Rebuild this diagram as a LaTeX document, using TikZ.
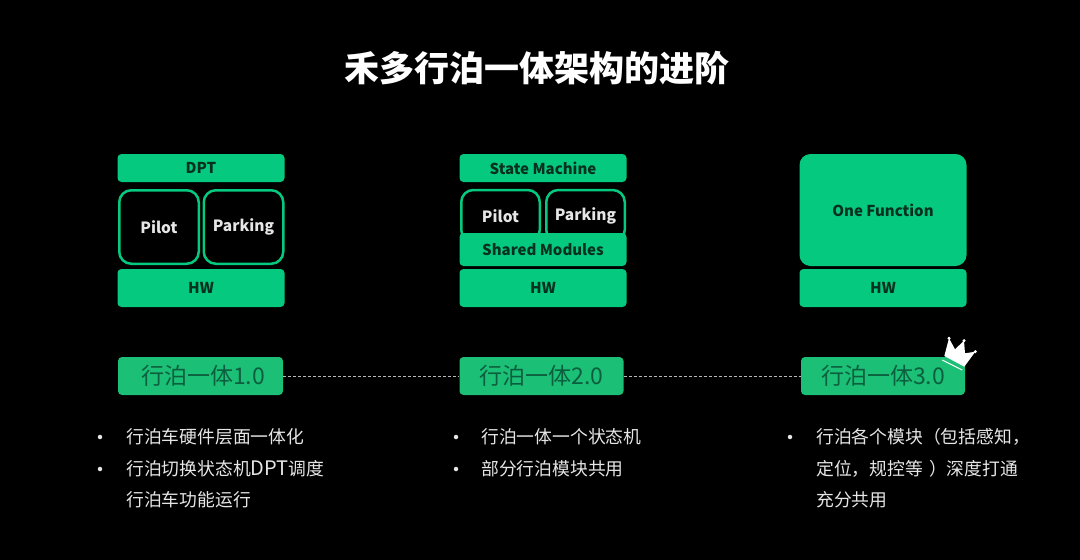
\documentclass[tikz,border=0pt]{standalone}
\usepackage{fontspec}
\setmainfont{Noto Sans CJK SC}
\definecolor{blockgreen}{HTML}{05C97E}
\definecolor{tagfill}{HTML}{1CBF76}
\definecolor{tagtext}{HTML}{0C5F3E}
\definecolor{blocktext}{HTML}{06301F}
\definecolor{bodytext}{HTML}{E6E6E6}
\tikzset{
    block/.style={fill=blockgreen,text=blocktext,rounded corners=4pt,inner sep=0pt,font=\fontsize{15}{15}\selectfont\bfseries},
    outlined/.style={draw=blockgreen,line width=2.5pt,fill=black,text=bodytext,rounded corners=12pt,inner sep=0pt,font=\fontsize{15.5}{15}\selectfont\bfseries},
    tag/.style={fill=tagfill,text=tagtext,rounded corners=4pt,inner sep=0pt,minimum height=38pt,font=\fontsize{23}{23}\selectfont},
    linkline/.style={densely dashed,line width=0.8pt,draw=bodytext!80!black},
    bodyline/.style={text=bodytext,anchor=west,inner sep=0pt,font=\fontsize{17.8}{18}\selectfont},
    dot/.style={circle,fill=bodytext,inner sep=0pt,minimum size=4.5pt}
}
\begin{document}
\begin{tikzpicture}[x=1pt,y=-1pt]
    \fill[black] (0,0) rectangle (1080,560);
    \useasboundingbox (0,0) rectangle (1080,560);
    \node[text=white,inner sep=0pt,font=\fontsize{35}{35}\selectfont\bfseries] (title) at (537,68) {禾多行泊一体架构的进阶};
    % first stack
    \node[block,minimum width=167pt,minimum height=28pt] (dptA) at (201,168) {DPT};
    \node[outlined,minimum width=79.5pt,minimum height=73.5pt] (pilotA) at (159,227) {Pilot};
    \node[outlined,minimum width=79.5pt,minimum height=73.5pt] (parkingA) at (243.5,227) {Parking};
    \node[block,minimum width=167pt,minimum height=38pt] (hwA) at (201,288) {HW};
    % second stack
    \node[block,minimum width=167pt,minimum height=28pt] (stateB) at (543,168) {State Machine};
    \node[outlined,minimum width=78.5pt,minimum height=52pt] (pilotB) at (500.5,216) {Pilot};
    \node[outlined,minimum width=78.5pt,minimum height=52pt] (parkingB) at (585.5,216) {Parking};
    \node[block,minimum width=167pt,minimum height=33pt] (sharedB) at (543,249.5) {Shared Modules};
    \node[block,minimum width=167pt,minimum height=38pt] (hwB) at (543,288) {HW};
    % third stack
    \node[block,rounded corners=11pt,minimum width=167pt,minimum height=112pt] (oneC) at (883,210) {One Function};
    \node[block,minimum width=167pt,minimum height=38pt] (hwC) at (883,288) {HW};
    % tags
    \node[tag,minimum width=165pt] (tagA) at (200.5,376) {\hspace{5pt}行泊一体1.0};
    \node[tag,minimum width=164pt] (tagB) at (541.5,376) {行泊一体2.0};
    \node[tag,minimum width=164pt] (tagC) at (883,376) {行泊一体3.0};
    \draw[linkline] (tagA) -- (tagB);
    \draw[linkline] (tagB) -- (tagC);
    % crown
    \fill[white] (944.3,356) -- (949,338.3) -- (955,349.3) -- (964,340.7) -- (965,353.3) -- (975.3,351.7) -- (964.3,366.7) -- cycle;
    \fill[white] (949,338.3) circle (1.7pt) (964,340.7) circle (1.7pt) (975.3,351.7) circle (1.7pt);
    \draw[white,line width=1pt] (942.3,360) -- (962.3,370);
    % text below
    \node[dot] (dotA) at (100,437) {};
    \node[bodyline] (lineA) at (126,437) {行泊车硬件层面一体化};
    \node[dot] (dotB) at (100,469) {};
    \node[bodyline] (lineB) at (126,469) {行泊切换状态机{\fontsize{20}{18}\selectfont DPT}调度};
    \node[bodyline] (lineC) at (126,500) {行泊车功能运行};
    \node[dot] (dotC) at (456,437) {};
    \node[bodyline] (lineD) at (481,437) {行泊一体一个状态机};
    \node[dot] (dotD) at (456,469) {};
    \node[bodyline] (lineE) at (481,469) {部分行泊模块共用};
    \node[dot] (dotE) at (790,437) {};
    \node[bodyline] (lineF) at (816,437) {行泊各个模块（包括感知，};
    \node[bodyline] (lineG) at (816,469) {定位，规控等\hspace{6pt}）深度打通};
    \node[bodyline] (lineH) at (816,500) {充分共用};
\end{tikzpicture}
\end{document}
